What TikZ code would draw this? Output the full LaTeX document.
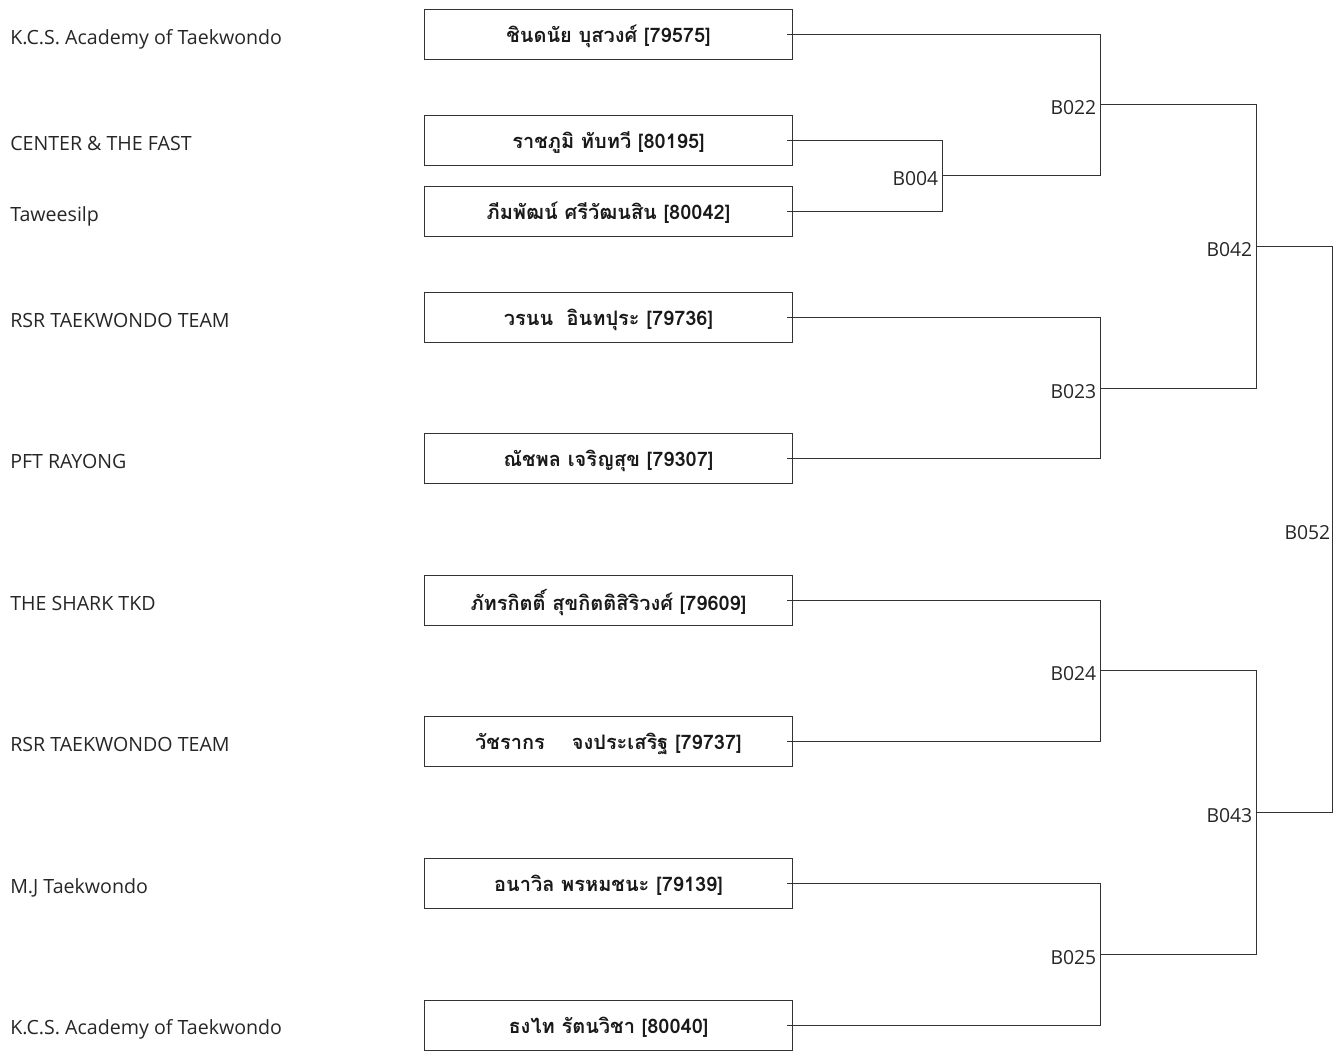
\documentclass[tikz,border=0pt]{standalone}
\usepackage{fontspec}
\setmainfont{Open Sans}
\newfontfamily\thaifont[Script=Thai]{Loma}
\usetikzlibrary{calc,positioning}
\tikzset{
  player/.style={ % box holding one competitor
    draw=black!80, rectangle, line width=0.75pt,
    minimum width=276pt, minimum height=37.5pt, inner sep=0pt,
    text depth=1pt,
    font=\thaifont\bfseries\fontsize{15}{17}\selectfont, text=black!90
  },
  club/.style={ % club name at the far left
    anchor=base west, inner sep=0pt,
    font=\fontsize{14.7}{16}\selectfont, text=black!85
  },
  bout/.style={ % bout number, just left of its join
    anchor=base east, inner sep=0pt,
    font=\fontsize{14.5}{16}\selectfont, text=black!85
  },
  wire/.style={draw=black!80, line width=0.75pt}
}

\begin{document}
\begin{tikzpicture}[x=0.75pt, y=-0.75pt]
  \useasboundingbox (0,0) rectangle (1334,1050);

  % competitors
  \node (p1)[player] at (608.5,34.5) {ชินดนัย บุสวงศ์ [79575]};
  \node (p2)[player] at (608.5,140.5) {ราชภูมิ ทับทวี [80195]};
  \node (p3)[player] at (608.5,211.5) {ภีมพัฒน์ ศรีวัฒนสิน [80042]};
  \node (p4)[player] at (608.5,317.5) {วรนน\ \ อินทปุระ [79736]};
  \node (p5)[player] at (608.5,458.5) {ณัชพล เจริญสุข [79307]};
  \node (p6)[player] at (608.5,600.5) {ภัทรกิตติ์ สุขกิตติสิริวงศ์ [79609]};
  \node (p7)[player] at (608.5,741.5) {วัชรากร\ \ \ \ จงประเสริฐ [79737]};
  \node (p8)[player] at (608.5,883.5) {อนาวิล พรหมชนะ [79139]};
  \node (p9)[player] at (608.5,1025.5) {ธงไท รัตนวิชา [80040]};

  % clubs
  \node (c1)[club] at (10,44.5) {K.C.S. Academy of Taekwondo};
  \node (c2)[club] at (10,150.5) {CENTER \& THE FAST};
  \node (c3)[club] at (10,221) {Taweesilp};
  \node (c4)[club] at (10,327.5) {RSR TAEKWONDO TEAM};
  \node (c5)[club] at (10,468.5) {PFT RAYONG};
  \node (c6)[club] at (10,610.3) {THE SHARK TKD};
  \node (c7)[club] at (10,751.7) {RSR TAEKWONDO TEAM};
  \node (c8)[club] at (10,893.3) {M.J Taekwondo};
  \node (c9)[club] at (10,1034.7) {K.C.S. Academy of Taekwondo};

  % joins
  \coordinate (b004) at (942.5,175.5);
  \coordinate (b022) at (1100.5,104.5);
  \coordinate (b023) at (1100.5,388.5);
  \coordinate (b024) at (1100.5,670.5);
  \coordinate (b025) at (1100.5,954.5);
  \coordinate (b042) at (1256.5,246.5);
  \coordinate (b043) at (1256.5,812.5);
  \coordinate (b052) at (1332.5,529.5);

  \node (l004)[bout] at ($(b004)+(-4,10)$) {B004};
  \node (l022)[bout] at ($(b022)+(-4,10)$) {B022};
  \node (l023)[bout] at ($(b023)+(-4,10)$) {B023};
  \node (l024)[bout] at ($(b024)+(-4,10)$) {B024};
  \node (l025)[bout] at ($(b025)+(-4,10)$) {B025};
  \node (l042)[bout] at ($(b042)+(-4,10)$) {B042};
  \node (l043)[bout] at ($(b043)+(-4,10)$) {B043};
  \node (l052)[bout] at ($(b052)+(-2,10)$) {B052};

  \draw[wire] ($(p2.east)+(-6,0)$) -| (b004) |- ($(p3.east)+(-6,0)$);
  \draw[wire] ($(p1.east)+(-6,0)$) -| (b022) |- (b004);
  \draw[wire] ($(p4.east)+(-6,0)$) -| (b023) |- ($(p5.east)+(-6,0)$);
  \draw[wire] ($(p6.east)+(-6,0)$) -| (b024) |- ($(p7.east)+(-6,0)$);
  \draw[wire] ($(p8.east)+(-6,0)$) -| (b025) |- ($(p9.east)+(-6,0)$);
  \draw[wire] (b022) -| (b042) |- (b023);
  \draw[wire] (b024) -| (b043) |- (b025);
  \draw[wire] (b042) -| (b052) |- (b043);
\end{tikzpicture}
\end{document}
